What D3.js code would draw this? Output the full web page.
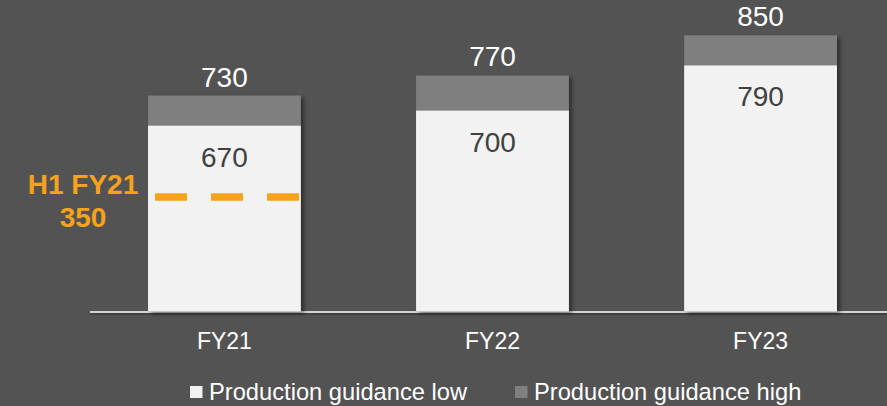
<!DOCTYPE html>
<html>
<head>
<meta charset="utf-8">
<script src="https://cdn.jsdelivr.net/npm/d3@7"></script>
<style>
  html, body { margin: 0; padding: 0; background: #535353; }
  svg { display: block; font-family: Arial, "Liberation Sans", sans-serif; }
</style>
</head>
<body>
<svg id="chart" width="887" height="406"></svg>
<script>
// ---- data ----
const categories = ["FY21", "FY22", "FY23"];
const guidanceLow = [670, 700, 790];
const guidanceHigh = [730, 770, 850];
const seriesNames = ["Production guidance low", "Production guidance high"];
const h1Label = ["H1 FY21", "350"];
const h1Category = "FY21";

// ---- layout ----
const W = 887, H = 406;
const svg = d3.select("#chart");

const defs = svg.append("defs");
const f = defs.append("filter").attr("id", "shadow")
  .attr("x", "-10%").attr("y", "-10%").attr("width", "130%").attr("height", "130%");
f.append("feDropShadow").attr("dx", 3).attr("dy", 2).attr("stdDeviation", 2)
  .attr("flood-color", "#000").attr("flood-opacity", 0.45);

const x = d3.scaleBand().domain(categories).range([81, 904])
  .paddingInner(0.43).paddingOuter(0.25);
const y = d3.scaleLinear().domain([300, 850]).range([311.5, 35.3]);

// baseline (with soft shadow beneath)
svg.append("rect")
  .attr("x", 90).attr("width", W - 90)
  .attr("y", 313).attr("height", 2)
  .attr("fill", "#3c3c3c").attr("opacity", 0.7);
svg.append("rect")
  .attr("x", 90).attr("width", W - 90)
  .attr("y", 311).attr("height", 2)
  .attr("fill", "#d4d4d4");

const data = categories.map((c, i) => ({ c, low: guidanceLow[i], high: guidanceHigh[i] }));
const base = y.domain()[0];

const g = svg.append("g");
const bars = g.selectAll("g.bar").data(data).join("g").attr("class", "bar")
  .attr("filter", "url(#shadow)");
bars.append("rect")
  .attr("x", d => x(d.c)).attr("width", x.bandwidth())
  .attr("y", d => y(d.high)).attr("height", d => y(base) - y(d.high))
  .attr("fill", "#7f7f7f");
bars.append("rect")
  .attr("x", d => x(d.c)).attr("width", x.bandwidth())
  .attr("y", d => y(d.low)).attr("height", d => y(base) - y(d.low))
  .attr("fill", "#f2f2f2");

// top labels
g.selectAll("text.hi").data(data).join("text").attr("class", "hi")
  .attr("x", d => x(d.c) + x.bandwidth() / 2)
  .attr("y", d => y(d.high) - 9)
  .attr("text-anchor", "middle")
  .attr("font-size", 28).attr("fill", "#ffffff")
  .text(d => d.high);

// inner labels
g.selectAll("text.lo").data(data).join("text").attr("class", "lo")
  .attr("x", d => x(d.c) + x.bandwidth() / 2)
  .attr("y", d => y(d.low) + 41)
  .attr("text-anchor", "middle")
  .attr("font-size", 28).attr("fill", "#404040")
  .text(d => d.low);

// x axis labels
const xAxis = d3.axisBottom(x).tickSize(0).tickPadding(0);
const ax = svg.append("g").attr("transform", "translate(0,332)").call(xAxis);
ax.select(".domain").remove();
ax.selectAll("text").attr("font-size", 23).attr("fill", "#ffffff")
  .attr("font-family", "Arial, 'Liberation Sans', sans-serif")
  .attr("dy", "0.74em");

// H1 annotation (dashed line across FY21 bar)
const hx = x(h1Category);
const hy = y(528);
svg.append("line")
  .attr("x1", hx + 7).attr("x2", hx + x.bandwidth() - 1)
  .attr("y1", hy).attr("y2", hy)
  .attr("stroke", "#f7a21b").attr("stroke-width", 7.5)
  .attr("stroke-dasharray", "32,24");
const ht = svg.append("text").attr("text-anchor", "middle")
  .attr("font-size", 28).attr("font-weight", "bold").attr("fill", "#f7a21b");
ht.selectAll("tspan").data(h1Label).join("tspan")
  .attr("x", 83).attr("y", (d, i) => 194 + i * 33)
  .text(d => d);

// legend
const legendColors = ["#f2f2f2", "#7f7f7f"];
const legendX = [190, 515];
const lg = svg.append("g").selectAll("g").data(seriesNames).join("g")
  .attr("transform", (d, i) => `translate(${legendX[i]},386)`);
lg.append("rect").attr("width", 12.5).attr("height", 12)
  .attr("fill", (d, i) => legendColors[i]);
lg.append("text").attr("x", 19).attr("y", 14)
  .attr("font-size", 23.7).attr("fill", "#ffffff")
  .text(d => d);
</script>
</body>
</html>
